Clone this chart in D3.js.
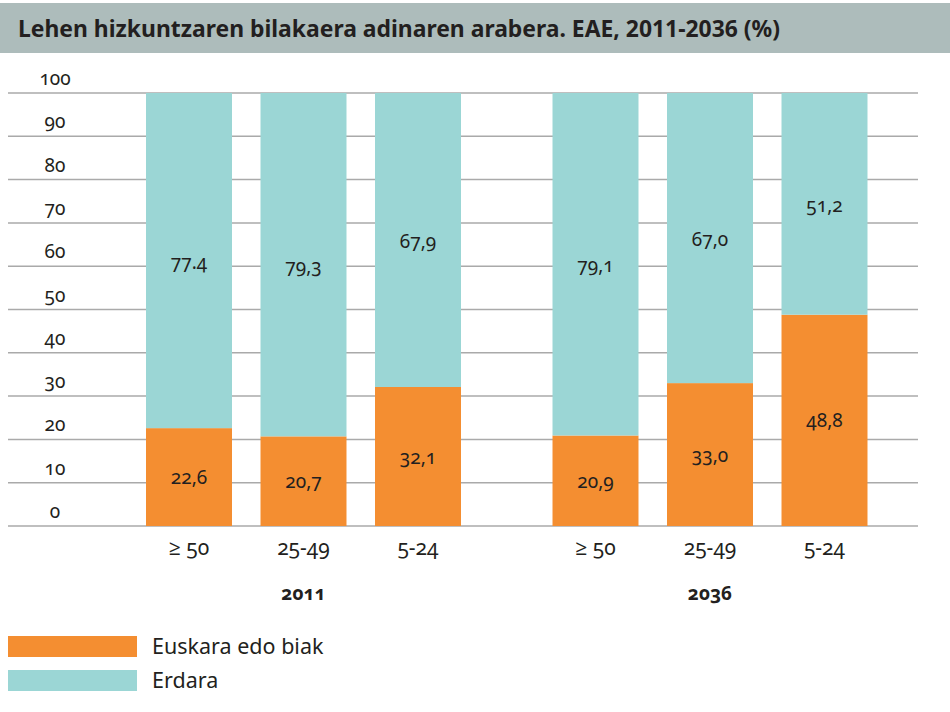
<!DOCTYPE html>
<html>
<head>
<meta charset="utf-8">
<script src="https://cdn.jsdelivr.net/npm/d3@7"></script>
<style>
  body { margin: 0; background: #fff; }
  svg text { font-family: "Noto Sans", "Open Sans", sans-serif; fill: #231f20; font-variant-numeric: oldstyle-nums; }
</style>
</head>
<body>
<svg id="chart" width="950" height="712"></svg>
<script>
// data
const years = ["2011", "2036"];
const ages = ["≥ 50", "25-49", "5-24"];
const euskara = [[22.6, 20.7, 32.1], [20.9, 33.0, 48.8]];
const erdara = [[77.4, 79.3, 67.9], [79.1, 67.0, 51.2]];
const euskaraLabels = [["22,6", "20,7", "32,1"], ["20,9", "33,0", "48,8"]];
const erdaraLabels = [["77.4", "79,3", "67,9"], ["79,1", "67,0", "51,2"]];
const yTicks = [0, 10, 20, 30, 40, 50, 60, 70, 80, 90, 100];
const seriesNames = ["Euskara edo biak", "Erdara"];
const colors = ["#f48e31", "#9bd6d5"];

const svg = d3.select("#chart");

// title band
svg.append("rect")
    .attr("x", 0).attr("y", 3)
    .attr("width", 950).attr("height", 50)
    .attr("fill", "#adbcbb");
svg.append("text")
    .attr("x", 18).attr("y", 37)
    .attr("font-size", "24px")
    .attr("font-weight", "bold")
    .attr("textLength", 762)
    .attr("lengthAdjust", "spacingAndGlyphs")
    .style("font-variant-numeric", "normal")
    .text("Lehen hizkuntzaren bilakaera adinaren arabera. EAE, 2011-2036 (%)");

const yscale = d3.scaleLinear().domain([0, 100]).range([526, 93]);

const outer = d3.scaleBand()
    .domain(years)
    .range([131.75, 881.75])
    .paddingInner(0.155)
    .paddingOuter(0);

const inner = d3.scaleBand()
    .domain(ages)
    .range([0, outer.bandwidth()])
    .paddingInner(0.249)
    .paddingOuter(0.1245);

// grid lines
for (let t of yTicks){
    svg.append("line")
        .attr("x1", 8).attr("x2", 918)
        .attr("y1", yscale(t)).attr("y2", yscale(t))
        .attr("stroke", "#aaaaaa")
        .attr("stroke-width", 1.5);

    svg.append("text")
        .attr("x", 55)
        .attr("y", yscale(t) - 8)
        .attr("text-anchor", "middle")
        .attr("font-size", "19px")
        .text(t);
}

// bars
years.forEach((yr, g) => {
    const gx = outer(yr);
    ages.forEach((a, i) => {
        const x = gx + inner(a);
        const w = inner.bandwidth();
        const v0 = euskara[g][i];
        const v1 = erdara[g][i];

        svg.append("rect")
            .attr("x", x).attr("y", yscale(v0))
            .attr("width", w).attr("height", yscale(0) - yscale(v0))
            .attr("fill", colors[0]);
        svg.append("rect")
            .attr("x", x).attr("y", yscale(v0 + v1))
            .attr("width", w).attr("height", yscale(v0) - yscale(v0 + v1))
            .attr("fill", colors[1]);

        svg.append("text")
            .attr("x", x + w/2)
            .attr("y", yscale(v0/2) + 7)
            .attr("text-anchor", "middle")
            .attr("font-size", "19px")
            .text(euskaraLabels[g][i]);
        svg.append("text")
            .attr("x", x + w/2)
            .attr("y", yscale(v0 + v1/2) + 8)
            .attr("text-anchor", "middle")
            .attr("font-size", "19px")
            .text(erdaraLabels[g][i]);

        svg.append("text")
            .attr("x", x + w/2)
            .attr("y", 555)
            .attr("text-anchor", "middle")
            .attr("font-size", "21px")
            .text(a);
    });

    svg.append("text")
        .attr("x", gx + outer.bandwidth()/2)
        .attr("y", 600)
        .attr("text-anchor", "middle")
        .attr("font-size", "19px")
        .attr("font-weight", "bold")
        .text(yr);
});

// legend
seriesNames.forEach((s, i) => {
    svg.append("rect")
        .attr("x", 8).attr("y", 636 + i*34)
        .attr("width", 129).attr("height", 21)
        .attr("fill", colors[i]);
    svg.append("text")
        .attr("x", 152).attr("y", 654 + i*34)
        .attr("font-size", "21.5px")
        .text(s);
});
</script>
</body>
</html>
